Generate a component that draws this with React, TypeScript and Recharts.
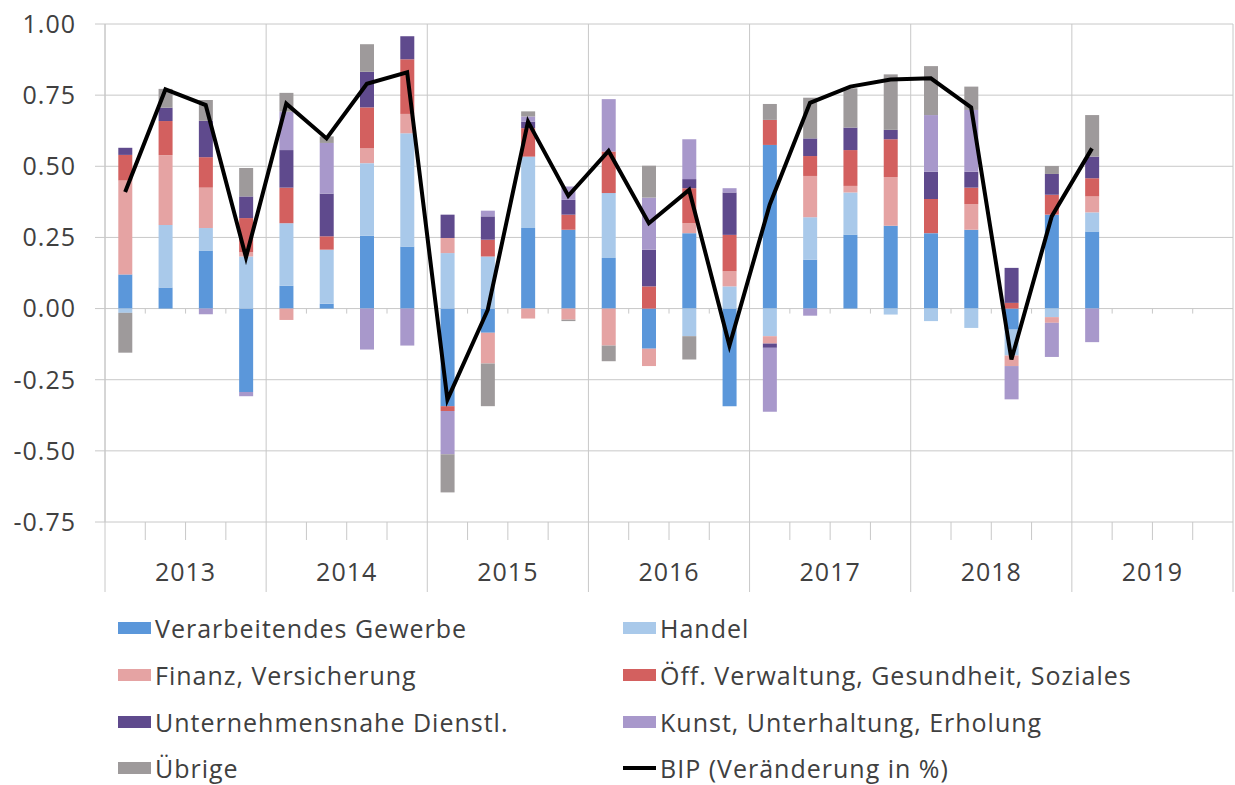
import React from "react";
import { ComposedChart, Bar, Line, XAxis, YAxis, CartesianGrid } from "recharts";

// quarters 2013 Q1 .. 2019 Q4 (only 2019 Q1 has data)
const years = ["2013", "2014", "2015", "2016", "2017", "2018", "2019"];
const quarters = years.flatMap((y) => ["Q1", "Q2", "Q3", "Q4"].map((q) => `${y} ${q}`));

const verarbeitendes = [0.12, 0.074, 0.204, -0.293, 0.08, 0.017, 0.256, 0.218, -0.343, -0.085, 0.283, 0.277, 0.178, -0.141, 0.265, -0.343, 0.575, 0.172, 0.259, 0.291, 0.265, 0.277, -0.074, 0.33, 0.271];
const handel = [-0.015, 0.22, 0.079, 0.183, 0.22, 0.19, 0.255, 0.398, 0.195, 0.183, 0.251, 0, 0.228, 0, -0.097, 0.078, -0.097, 0.149, 0.149, -0.021, -0.044, -0.068, -0.091, -0.03, 0.067];
const finanz = [0.33, 0.245, 0.142, 0.015, -0.04, 0, 0.052, 0.068, 0.053, -0.108, -0.035, -0.039, -0.13, -0.061, 0.035, 0.053, -0.026, 0.145, 0.023, 0.171, 0, 0.09, -0.037, -0.02, 0.056];
const oeffentlich = [0.09, 0.12, 0.107, 0.12, 0.125, 0.047, 0.144, 0.192, -0.017, 0.059, 0.1, 0.053, 0.146, 0.078, 0.123, 0.128, 0.088, 0.07, 0.126, 0.133, 0.12, 0.058, 0.02, 0.07, 0.064];
const unternehmen = [0.025, 0.047, 0.128, 0.076, 0.132, 0.15, 0.125, 0.081, 0.082, 0.082, 0.023, 0.052, 0, 0.129, 0.032, 0.149, -0.015, 0.062, 0.079, 0.033, 0.096, 0.056, 0.123, 0.073, 0.076];
const kunst = [0, 0, -0.02, -0.015, 0.135, 0.178, -0.144, -0.13, -0.152, 0.02, 0.018, 0.047, 0.184, 0.183, 0.14, 0.015, -0.225, -0.025, 0, 0, 0.199, 0.217, -0.117, -0.12, -0.118];
const uebrige = [-0.14, 0.066, 0.073, 0.1, 0.066, 0.023, 0.097, 0, -0.134, -0.15, 0.018, -0.005, -0.055, 0.112, -0.082, 0, 0.056, 0.143, 0.138, 0.195, 0.172, 0.082, 0, 0.028, 0.146];
const bip = [0.41, 0.77, 0.715, 0.18, 0.72, 0.598, 0.79, 0.83, -0.32, -0.005, 0.657, 0.396, 0.554, 0.3, 0.417, -0.13, 0.365, 0.723, 0.78, 0.805, 0.809, 0.707, -0.179, 0.324, 0.563];

const yTicks = [-0.75, -0.5, -0.25, 0, 0.25, 0.5, 0.75, 1];

const series = [
  { key: "verarb", name: "Verarbeitendes Gewerbe", values: verarbeitendes, color: "#5b97da" },
  { key: "handel", name: "Handel", values: handel, color: "#a9c9ea" },
  { key: "finanz", name: "Finanz, Versicherung", values: finanz, color: "#e5a3a3" },
  { key: "oeff", name: "Öff. Verwaltung, Gesundheit, Soziales", values: oeffentlich, color: "#d3605f" },
  { key: "untern", name: "Unternehmensnahe Dienstl.", values: unternehmen, color: "#5f4a8d" },
  { key: "kunst", name: "Kunst, Unterhaltung, Erholung", values: kunst, color: "#a898cb" },
  { key: "uebrige", name: "Übrige", values: uebrige, color: "#9e9a9b" },
];

const data = quarters.map((q, i) => {
  const row: any = { q, bip: bip[i] };
  series.forEach((s) => {
    row[s.key] = s.values[i];
  });
  return row;
});

const W = 1235;
const H = 600;
const MARGIN = { top: 24, right: 2, bottom: 3, left: 0 };
const Y_AXIS_W = 105;
const X_AXIS_H = 75;
const PLOT_W = W - MARGIN.right - MARGIN.left - Y_AXIS_W;
const PLOT_H = H - MARGIN.top - MARGIN.bottom - X_AXIS_H;
const BAND = PLOT_W / quarters.length;
const Y_MIN = -0.75;
const Y_MAX = 1;
const GRID = "#c8c8c8";
const TEXT = "#404040";
const FONT = "'Open Sans', Lato, sans-serif";
const FONT_SIZE = 25;
const SPACING = 1;

const QuarterTick = (props: any) => {
  const { x, y, index } = props;
  const half = BAND / 2;
  const zeroY = y - (PLOT_H * (0 - Y_MIN)) / (Y_MAX - Y_MIN);
  const first = index % 4 === 0;
  return (
    <g>
      {first ? (
        <line x1={x - half} x2={x - half} y1={y} y2={y + 70} stroke={GRID} />
      ) : (
        <>
          <line x1={x - half} x2={x - half} y1={y} y2={y + 18} stroke={GRID} />
          <line x1={x - half} x2={x - half} y1={zeroY} y2={zeroY + 5} stroke={GRID} />
        </>
      )}
      {index === quarters.length - 1 && (
        <line x1={x + half} x2={x + half} y1={y} y2={y + 70} stroke={GRID} />
      )}
      {index % 4 === 1 && (
        <text
          x={x + half}
          y={y + 59}
          textAnchor="middle"
          fill={TEXT}
          fontSize={FONT_SIZE}
          fontFamily={FONT}
          letterSpacing={SPACING}
        >
          {years[Math.floor(index / 4)]}
        </text>
      )}
    </g>
  );
};

const yearLines = ({ offset }: any) =>
  years.map((_, i) => offset.left + i * 4 * BAND).concat([offset.left + offset.width]);

const LegendItem = ({ name, color, line }: { name: string; color: string; line?: boolean }) => (
  <div style={{ display: "flex", alignItems: "center", height: 46.7 }}>
    <div
      style={{
        width: 33,
        height: line ? 4 : 12,
        background: color,
        marginRight: 4,
      }}
    />
    <span>{name}</span>
  </div>
);

const App = () => (
  <div
    style={{
      position: "absolute",
      left: 0,
      top: 0,
      width: W,
      height: 785,
      background: "#fff",
      fontFamily: FONT,
      color: TEXT,
    }}
  >
    <ComposedChart width={W} height={H} data={data} margin={MARGIN} stackOffset="sign" barCategoryGap="33%">
      <CartesianGrid stroke={GRID} verticalCoordinatesGenerator={yearLines} />
      <XAxis
        dataKey="q"
        interval={0}
        height={X_AXIS_H}
        axisLine={false}
        tickLine={false}
        tickSize={0}
        tickMargin={0}
        tick={<QuarterTick />}
      />
      <YAxis
        domain={[Y_MIN, Y_MAX]}
        ticks={yTicks}
        width={Y_AXIS_W}
        tickSize={10}
        tickMargin={19}
        axisLine={{ stroke: GRID }}
        tickLine={{ stroke: GRID }}
        tickFormatter={(v: number) => v.toFixed(2)}
        tick={{ fill: TEXT, fontSize: FONT_SIZE, fontFamily: FONT, letterSpacing: SPACING }}
      />
      {series.map((s) => (
        <Bar key={s.key} dataKey={s.key} name={s.name} stackId="a" fill={s.color} isAnimationActive={false} />
      ))}
      <Line
        dataKey="bip"
        name="BIP (Veränderung in %)"
        type="linear"
        stroke="#000"
        strokeWidth={4}
        dot={false}
        isAnimationActive={false}
      />
    </ComposedChart>
    <div
      style={{
        position: "absolute",
        left: 118,
        top: 605,
        display: "grid",
        gridTemplateColumns: "505px 560px",
        fontSize: FONT_SIZE,
        letterSpacing: SPACING,
      }}
    >
      {[...series.map((s) => ({ name: s.name, color: s.color, line: false })), { name: "BIP (Veränderung in %)", color: "#000", line: true }].map(
        (it) => (
          <LegendItem key={it.name} name={it.name} color={it.color} line={it.line} />
        )
      )}
    </div>
  </div>
);

export default App;
